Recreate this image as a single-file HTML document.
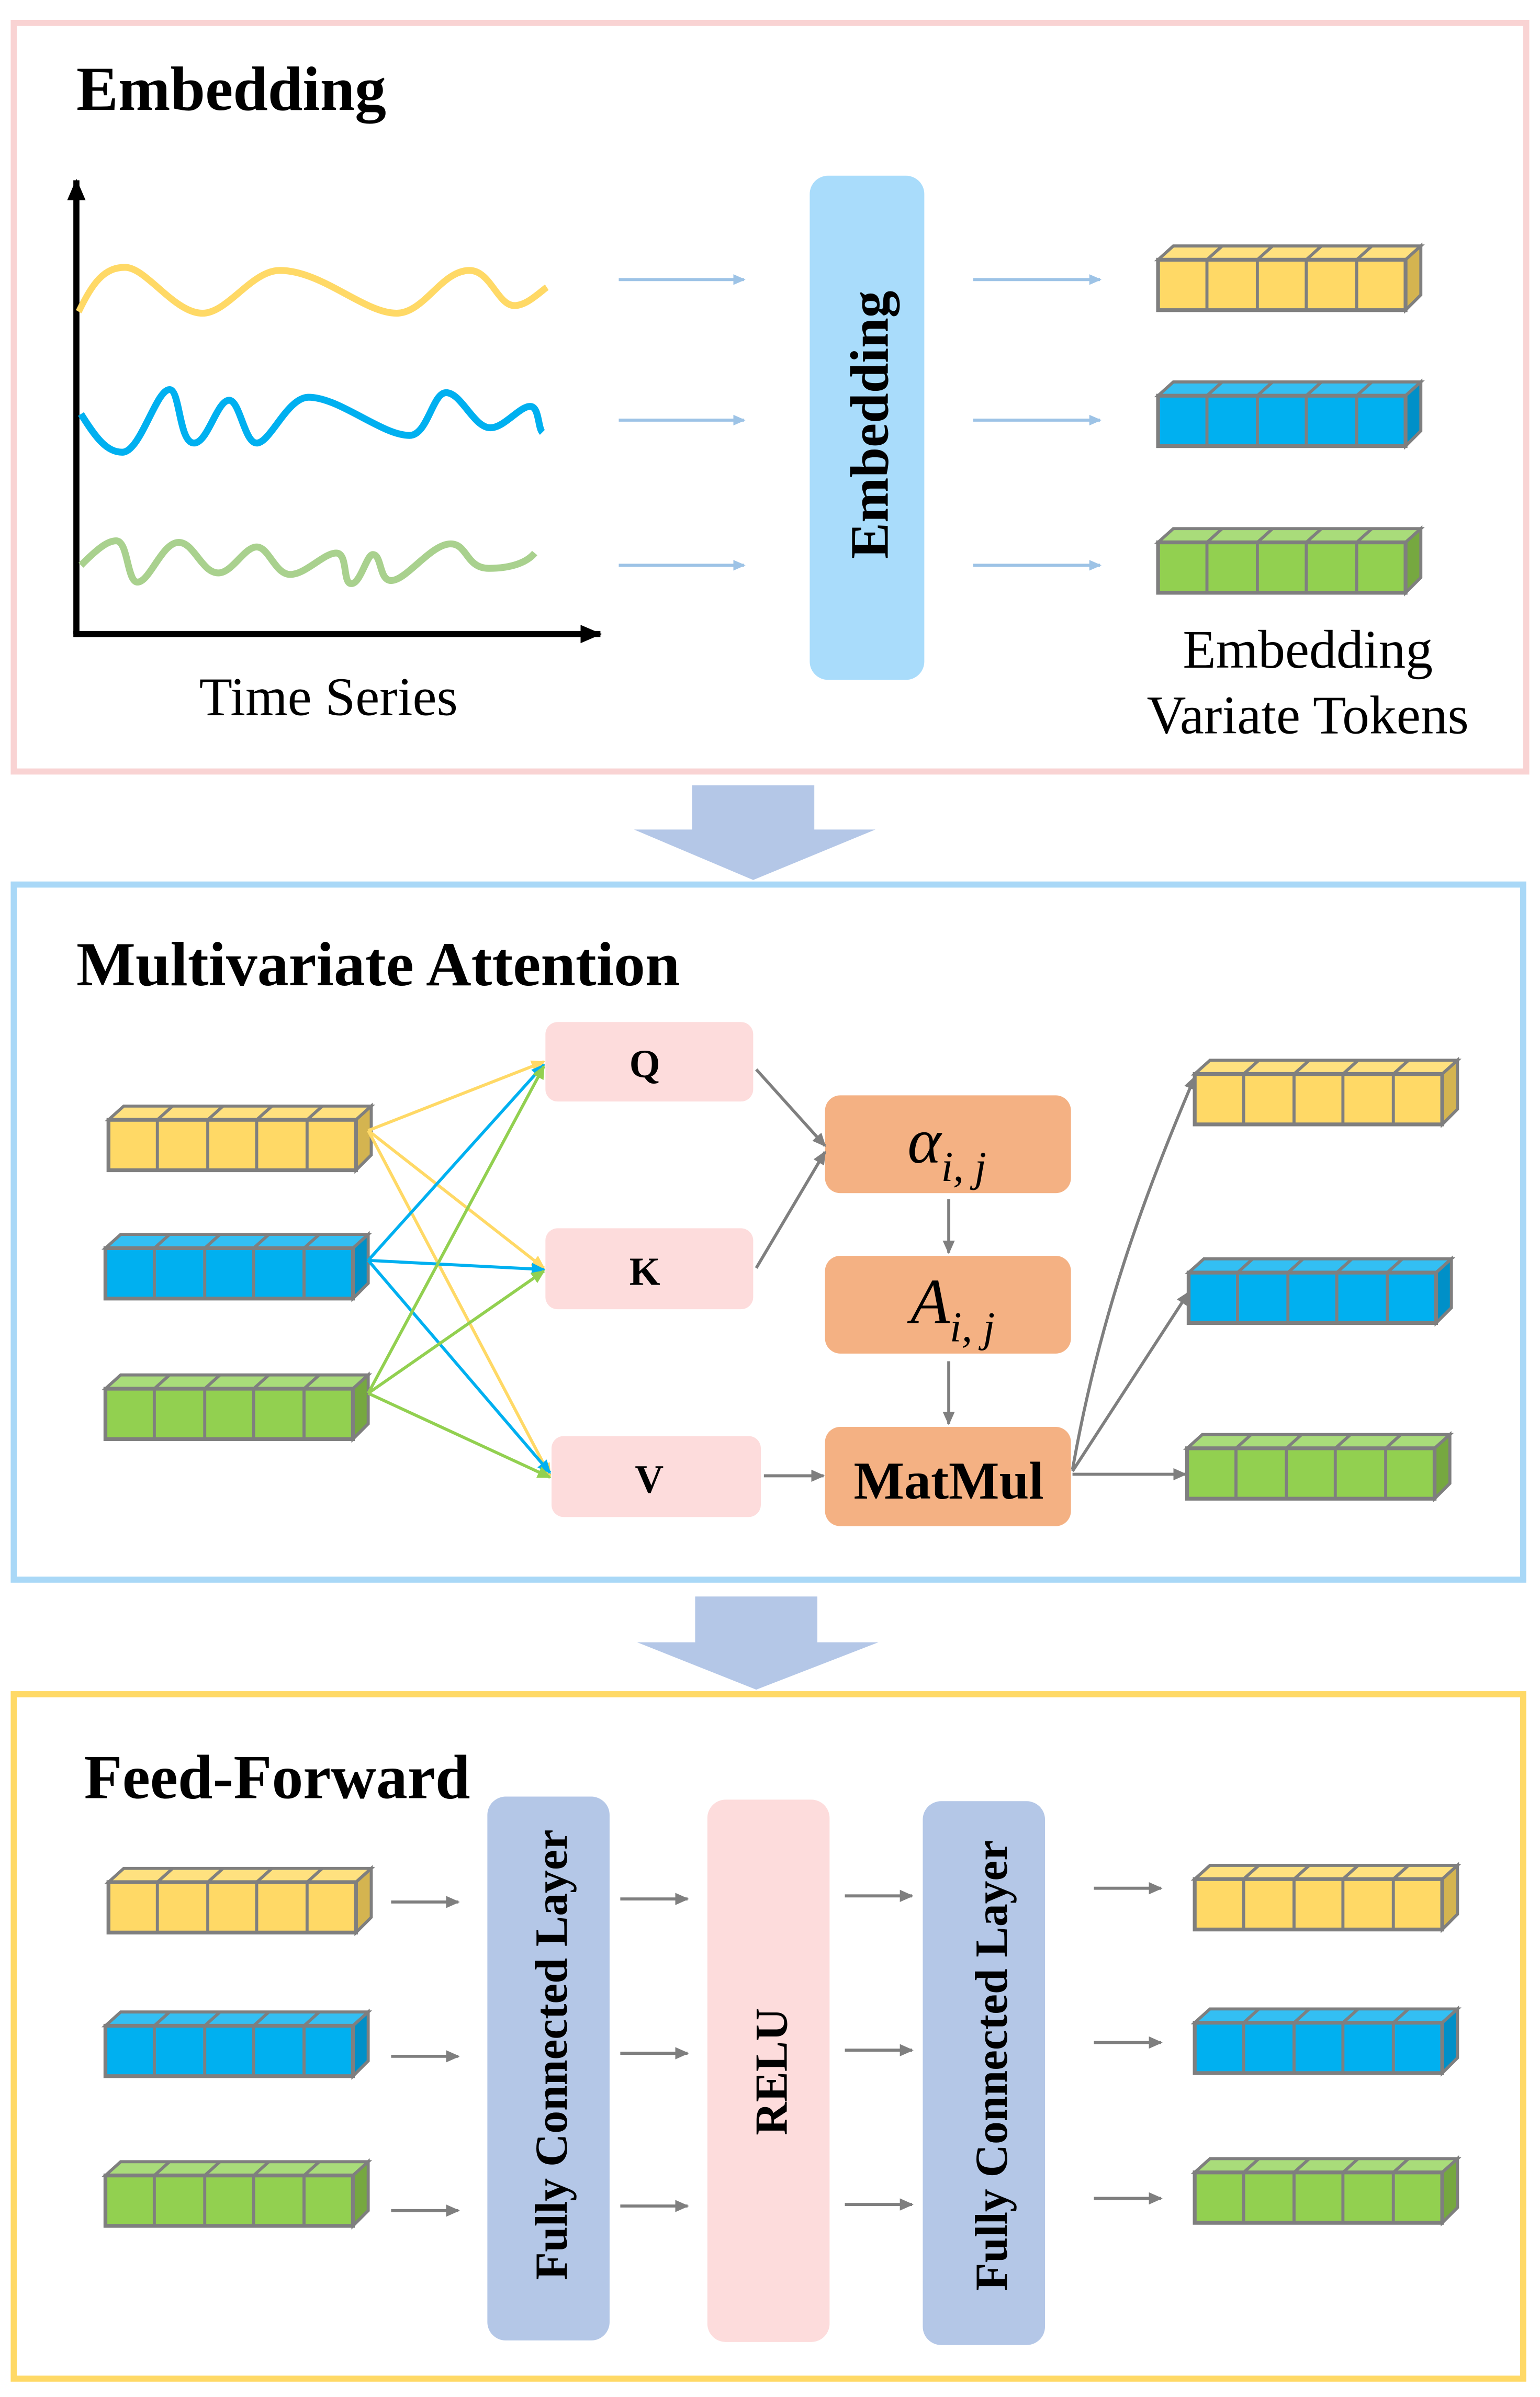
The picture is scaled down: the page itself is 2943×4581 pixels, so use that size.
<!DOCTYPE html>
<html><head><meta charset="utf-8"><style>
html,body{margin:0;padding:0;background:#fff}
svg{display:block}
text{font-family:"Liberation Serif",serif}
</style></head><body>
<svg width="2943" height="4581" viewBox="0 0 1008 1569" xmlns="http://www.w3.org/2000/svg">
<defs>
<marker id="ab" markerWidth="8" markerHeight="8" refX="7" refY="4" orient="auto" markerUnits="userSpaceOnUse"><path d="M0,0.5 L8,4 L0,7.5 Z" fill="#9dc3e6"/></marker>
<marker id="ag" markerWidth="9" markerHeight="9" refX="8" refY="4.5" orient="auto" markerUnits="userSpaceOnUse"><path d="M0,0.5 L9,4.5 L0,8.5 Z" fill="#7f7f7f"/></marker>
<marker id="ay" markerWidth="9" markerHeight="9" refX="8" refY="4.5" orient="auto" markerUnits="userSpaceOnUse"><path d="M0,0.5 L9,4.5 L0,8.5 Z" fill="#ffd966"/></marker>
<marker id="abl" markerWidth="9" markerHeight="9" refX="8" refY="4.5" orient="auto" markerUnits="userSpaceOnUse"><path d="M0,0.5 L9,4.5 L0,8.5 Z" fill="#00b0f0"/></marker>
<marker id="agr" markerWidth="9" markerHeight="9" refX="8" refY="4.5" orient="auto" markerUnits="userSpaceOnUse"><path d="M0,0.5 L9,4.5 L0,8.5 Z" fill="#92d050"/></marker>
<marker id="ak" markerWidth="14" markerHeight="14" refX="13" refY="7" orient="auto" markerUnits="userSpaceOnUse"><path d="M0,1 L14,7 L0,13 Z" fill="#000"/></marker>
<g id="ty"><path d="M0,9 L10,0 L172,0 L162,9 Z" fill="#ffe17f" stroke="#7f7f7f" stroke-width="2"/><path d="M162,9 L172,0 L172,32 L162,42 Z" fill="#d4b450" stroke="#7f7f7f" stroke-width="2"/><rect x="0" y="9" width="162" height="33" fill="#ffd966" stroke="#7f7f7f" stroke-width="2.5"/><path d="M32,9V42M65,9V42M97,9V42M130,9V42M42,0L32,9M75,0L65,9M107,0L97,9M140,0L130,9" stroke="#7f7f7f" stroke-width="2"/></g>
<g id="tb"><path d="M0,9 L10,0 L172,0 L162,9 Z" fill="#33bff3" stroke="#7f7f7f" stroke-width="2"/><path d="M162,9 L172,0 L172,32 L162,42 Z" fill="#0090c8" stroke="#7f7f7f" stroke-width="2"/><rect x="0" y="9" width="162" height="33" fill="#00b0f0" stroke="#7f7f7f" stroke-width="2.5"/><path d="M32,9V42M65,9V42M97,9V42M130,9V42M42,0L32,9M75,0L65,9M107,0L97,9M140,0L130,9" stroke="#7f7f7f" stroke-width="2"/></g>
<g id="tg"><path d="M0,9 L10,0 L172,0 L162,9 Z" fill="#a9dc7a" stroke="#7f7f7f" stroke-width="2"/><path d="M162,9 L172,0 L172,32 L162,42 Z" fill="#76a840" stroke="#7f7f7f" stroke-width="2"/><rect x="0" y="9" width="162" height="33" fill="#92d050" stroke="#7f7f7f" stroke-width="2.5"/><path d="M32,9V42M65,9V42M97,9V42M130,9V42M42,0L32,9M75,0L65,9M107,0L97,9M140,0L130,9" stroke="#7f7f7f" stroke-width="2"/></g>
</defs>

<rect x="9" y="15" width="990" height="490" fill="none" stroke="#f9d3d3" stroke-width="4"/>
<rect x="9" y="579" width="988" height="455" fill="none" stroke="#a9d8f7" stroke-width="4"/>
<rect x="9" y="1109" width="988" height="448" fill="none" stroke="#ffd966" stroke-width="4"/>

<path d="M453,514 H533 V543 H573 L493,576 L415,543 H453 Z" fill="#b4c7e7"/>
<path d="M455,1045 H535 V1075 H575 L495,1106 L417,1075 H455 Z" fill="#b4c7e7"/>

<text x="50" y="72" font-size="41" font-weight="bold">Embedding</text>
<text x="50" y="645" font-size="41" font-weight="bold">Multivariate Attention</text>
<text x="55" y="1177" font-size="41" font-weight="bold">Feed-Forward</text>

<line x1="50" y1="415" x2="50" y2="118" stroke="#000" stroke-width="4" marker-end="url(#ak)"/>
<line x1="48" y1="415" x2="393" y2="415" stroke="#000" stroke-width="4" marker-end="url(#ak)"/>
<path d="M52,204 C62,185 70,175 85,175 C100,175 120,205 140,205 C158,205 175,177 195,177 C225,177 255,205 278,205 C298,205 310,177 330,177 C345,177 350,200 362,200 C370,200 378,193 385,188" fill="none" stroke="#ffd966" stroke-width="4.5" transform="scale(0.92,1) translate(4,0)"/>
<path d="M53,271 C63,287 70,296 80,296 C92,296 102,255 111,255 C118,255 117,290 127,290 C136,290 142,262 150,262 C157,262 160,290 168,290 C177,290 188,260 202,260 C222,260 250,285 268,285 C280,285 283,257 292,257 C302,257 310,280 321,280 C330,280 340,266 347,266 C353,266 352,280 355,283" fill="none" stroke="#00b0f0" stroke-width="4.5"/>
<path d="M53,370 C63,360 70,354 76,354 C84,354 83,381 90,381 C98,381 106,355 117,355 C127,355 132,375 143,375 C152,375 160,358 168,358 C176,358 180,376 190,376 C200,376 212,362 220,362 C228,362 224,382 230,382 C236,382 240,363 244,363 C250,363 248,380 256,380 C266,380 282,356 295,356 C306,356 305,372 320,372 C335,372 345,368 350,362" fill="none" stroke="#a9d18e" stroke-width="4.5"/>
<text x="215" y="468" font-size="35.5" text-anchor="middle">Time Series</text>

<rect x="530" y="115" width="75" height="330" rx="12" fill="#a9dcfb"/>
<text transform="translate(581,278) rotate(-90)" font-size="35.5" font-weight="bold" text-anchor="middle">Embedding</text>
<g stroke="#9dc3e6" stroke-width="2" marker-end="url(#ab)">
<line x1="405" y1="183" x2="487" y2="183"/><line x1="405" y1="275" x2="487" y2="275"/><line x1="405" y1="370" x2="487" y2="370"/>
<line x1="637" y1="183" x2="720" y2="183"/><line x1="637" y1="275" x2="720" y2="275"/><line x1="637" y1="370" x2="720" y2="370"/>
</g>
<use href="#ty" x="758" y="161"/><use href="#tb" x="758" y="250"/><use href="#tg" x="758" y="346"/>
<text x="856" y="437" font-size="35.5" text-anchor="middle">Embedding</text>
<text x="856" y="480" font-size="35.5" text-anchor="middle">Variate Tokens</text>

<use href="#ty" x="71" y="724"/><use href="#tb" x="69" y="808"/><use href="#tg" x="69" y="900"/>
<rect x="357" y="669" width="136" height="52" rx="8" fill="#fddcdc"/>
<rect x="357" y="804" width="136" height="53" rx="8" fill="#fddcdc"/>
<rect x="361" y="940" width="137" height="53" rx="8" fill="#fddcdc"/>
<text x="422" y="705" font-size="26" font-weight="bold" text-anchor="middle">Q</text>
<text x="422" y="841" font-size="26" font-weight="bold" text-anchor="middle">K</text>
<text x="425" y="977" font-size="26" font-weight="bold" text-anchor="middle">V</text>
<g stroke-width="2" fill="none">
<line x1="241" y1="740" x2="356" y2="695" stroke="#ffd966" marker-end="url(#ay)"/>
<line x1="241" y1="740" x2="356" y2="830" stroke="#ffd966" marker-end="url(#ay)"/>
<line x1="241" y1="740" x2="360" y2="966" stroke="#ffd966" marker-end="url(#ay)"/>
<line x1="241" y1="825" x2="356" y2="697" stroke="#00b0f0" marker-end="url(#abl)"/>
<line x1="241" y1="825" x2="356" y2="831" stroke="#00b0f0" marker-end="url(#abl)"/>
<line x1="241" y1="825" x2="360" y2="964" stroke="#00b0f0" marker-end="url(#abl)"/>
<line x1="241" y1="912" x2="356" y2="698" stroke="#92d050" marker-end="url(#agr)"/>
<line x1="241" y1="912" x2="356" y2="832" stroke="#92d050" marker-end="url(#agr)"/>
<line x1="241" y1="912" x2="360" y2="967" stroke="#92d050" marker-end="url(#agr)"/>
</g>
<rect x="540" y="717" width="161" height="64" rx="10" fill="#f4b183"/>
<rect x="540" y="822" width="161" height="64" rx="10" fill="#f4b183"/>
<rect x="540" y="934" width="161" height="65" rx="10" fill="#f4b183"/>
<text x="594" y="761" font-size="42" font-style="italic">α<tspan font-size="28" dy="12">i, j</tspan></text>
<text x="596" y="866" font-size="42" font-style="italic">A<tspan font-size="28" dy="12">i, j</tspan></text>
<text x="621" y="981" font-size="35" font-weight="bold" text-anchor="middle">MatMul</text>
<g stroke="#7f7f7f" stroke-width="2" fill="none" marker-end="url(#ag)">
<line x1="495" y1="700" x2="540" y2="750"/>
<line x1="495" y1="830" x2="540" y2="754"/>
<line x1="621" y1="785" x2="621" y2="820"/>
<line x1="621" y1="891" x2="621" y2="932"/>
<line x1="500" y1="966" x2="539" y2="966"/>
<path d="M702,962 C720,860 750,780 782,705"/>
<line x1="702" y1="963" x2="778" y2="846"/>
<line x1="702" y1="965" x2="776" y2="965"/>
</g>
<use href="#ty" x="782" y="694"/><use href="#tb" x="778" y="824"/><use href="#tg" x="777" y="939"/>

<use href="#ty" x="71" y="1223"/><use href="#tb" x="69" y="1317"/><use href="#tg" x="69" y="1415"/>
<rect x="319" y="1176" width="80" height="356" rx="12" fill="#b4c7e7"/>
<rect x="463" y="1178" width="80" height="355" rx="12" fill="#fddcdc"/>
<rect x="604" y="1179" width="80" height="356" rx="12" fill="#b4c7e7"/>
<text transform="translate(371,1345) rotate(-90)" font-size="30" font-weight="bold" text-anchor="middle">Fully Connected Layer</text>
<text transform="translate(515,1356) rotate(-90)" font-size="30" font-weight="bold" text-anchor="middle">RELU</text>
<text transform="translate(659,1352) rotate(-90)" font-size="30" font-weight="bold" text-anchor="middle">Fully Connected Layer</text>
<g stroke="#7f7f7f" stroke-width="2" marker-end="url(#ag)">
<line x1="256" y1="1245" x2="300" y2="1245"/><line x1="256" y1="1346" x2="300" y2="1346"/><line x1="256" y1="1447" x2="300" y2="1447"/>
<line x1="406" y1="1243" x2="450" y2="1243"/><line x1="406" y1="1344" x2="450" y2="1344"/><line x1="406" y1="1444" x2="450" y2="1444"/>
<line x1="553" y1="1241" x2="597" y2="1241"/><line x1="553" y1="1342" x2="597" y2="1342"/><line x1="553" y1="1443" x2="597" y2="1443"/>
<line x1="716" y1="1236" x2="760" y2="1236"/><line x1="716" y1="1337" x2="760" y2="1337"/><line x1="716" y1="1439" x2="760" y2="1439"/>
</g>
<use href="#ty" x="782" y="1221"/><use href="#tb" x="782" y="1315"/><use href="#tg" x="782" y="1413"/>
</svg>
</body></html>
